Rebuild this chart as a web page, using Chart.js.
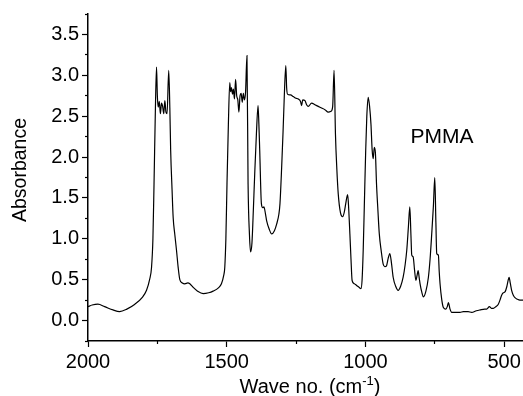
<!DOCTYPE html>
<html>
<head>
<meta charset="utf-8">
<script src="https://cdn.jsdelivr.net/npm/chart.js@4/dist/chart.umd.min.js"></script>
<style>
  body { margin: 0; background: #fff; }
</style>
</head>
<body>
<canvas id="spectrum" width="523" height="396"></canvas>
<script>
// FTIR spectrum of PMMA
const waveNumbers = [
  2000, 1985, 1964, 1940, 1910, 1886, 1860, 1831, 1805, 1789, 1778, 1771, 1766, 1762, 1757, 1753,
  1750, 1747, 1743, 1739, 1735, 1731, 1727, 1723, 1719, 1715, 1709, 1705, 1702, 1697, 1693, 1687,
  1681, 1675, 1669, 1660, 1651, 1640, 1633, 1622, 1605, 1585, 1565, 1549, 1530, 1519, 1511, 1507,
  1503, 1499, 1494, 1489, 1486, 1483, 1479, 1476, 1472, 1468, 1464, 1460, 1456, 1452, 1448, 1444,
  1440, 1436, 1432, 1427, 1423, 1418, 1414, 1409, 1405, 1399, 1393, 1387, 1384, 1381, 1375, 1370,
  1366, 1360, 1356, 1347, 1338, 1328, 1320, 1312, 1308, 1302, 1297, 1293, 1287, 1284, 1281, 1270,
  1260, 1250, 1242, 1234, 1230, 1226, 1218, 1212, 1206, 1194, 1182, 1170, 1158, 1146, 1134, 1124,
  1118, 1113, 1108, 1103, 1098, 1090, 1082, 1076, 1071, 1064, 1060, 1056, 1052, 1048, 1040, 1032,
  1024, 1016, 1012, 1008, 1004, 999, 995, 990, 985, 980, 976, 972, 968, 964, 960, 955,
  950, 943, 936, 930, 924, 918, 912, 906, 900, 891, 882, 873, 864, 857, 851, 845,
  840, 836, 833, 828, 823, 818, 814, 810, 806, 803, 797, 791, 782, 773, 767, 761,
  755, 750, 746, 743, 737, 734, 731, 725, 719, 710, 705, 701, 695, 689, 670, 659,
  647, 630, 617, 600, 587, 570, 563, 553, 546, 539, 530, 521, 515, 509, 503, 497,
  490, 485, 482, 478, 473, 467, 461, 452, 443, 432
];
const absorbance = [
  0.17, 0.19, 0.20, 0.17, 0.13, 0.11, 0.14, 0.20, 0.28, 0.37, 0.50, 0.65, 1.00, 1.67, 2.60, 3.10,
  2.75, 2.61, 2.68, 2.53, 2.66, 2.62, 2.53, 2.69, 2.55, 2.53, 3.06, 2.60, 2.08, 1.60, 1.26, 1.05,
  0.86, 0.65, 0.50, 0.46, 0.45, 0.46, 0.45, 0.41, 0.36, 0.33, 0.34, 0.36, 0.40, 0.45, 0.55, 0.65,
  1.00, 1.67, 2.40, 2.91, 2.80, 2.85, 2.77, 2.83, 2.71, 2.95, 2.75, 2.70, 2.55, 2.75, 2.78, 2.67,
  2.78, 2.70, 2.80, 3.24, 1.67, 1.05, 0.84, 0.95, 1.26, 1.80, 2.28, 2.63, 2.40, 2.08, 1.43, 1.38,
  1.39, 1.30, 1.22, 1.12, 1.06, 1.10, 1.18, 1.30, 1.43, 1.87, 2.30, 2.69, 3.12, 2.85, 2.77, 2.76,
  2.74, 2.72, 2.71, 2.68, 2.63, 2.70, 2.69, 2.64, 2.62, 2.66, 2.64, 2.62, 2.60, 2.58, 2.55, 2.56,
  2.62, 3.06, 2.28, 1.85, 1.55, 1.32, 1.27, 1.33, 1.43, 1.54, 1.35, 1.06, 0.75, 0.49, 0.45, 0.43,
  0.41, 0.39, 0.50, 0.86, 1.40, 2.08, 2.50, 2.73, 2.62, 2.40, 2.10, 1.98, 2.12, 2.05, 1.67, 1.35,
  1.06, 0.85, 0.69, 0.66, 0.67, 0.76, 0.82, 0.70, 0.53, 0.42, 0.37, 0.42, 0.53, 0.68, 0.86, 1.15,
  1.39, 1.05, 0.80, 0.78, 0.62, 0.49, 0.55, 0.61, 0.52, 0.45, 0.35, 0.29, 0.36, 0.53, 0.75, 1.06,
  1.40, 1.75, 1.20, 0.82, 0.80, 0.60, 0.45, 0.26, 0.16, 0.14, 0.17, 0.22, 0.14, 0.10, 0.10, 0.10,
  0.11, 0.11, 0.10, 0.12, 0.13, 0.14, 0.14, 0.17, 0.15, 0.15, 0.17, 0.20, 0.25, 0.31, 0.34, 0.35,
  0.42, 0.50, 0.53, 0.46, 0.37, 0.31, 0.28, 0.26, 0.25, 0.25
];

const xTicks = [2000, 1500, 1000, 500];
const xMinorTicks = [1750, 1250, 750];
const yTicks = [0, 0.5, 1, 1.5, 2, 2.5, 3, 3.5];
const yMinorTicks = [-0.25, 0.25, 0.75, 1.25, 1.75, 2.25, 2.75, 3.25, 3.75];

const sampleName = "PMMA";
const xTitle = "Wave no. (cm";
const xTitleSup = "-1";
const yTitle = "Absorbance";

const FONT = "'Liberation Sans', Arial, sans-serif";
Chart.defaults.font.family = FONT;
Chart.defaults.color = "#000";

const points = waveNumbers.map((w, i) => ({ x: w, y: absorbance[i] }));

const setTicks = list => scale => { scale.ticks = list.map(v => ({ value: v })); };

// sample label + axis titles (the x title needs a superscript)
const textPlugin = {
  id: "texts",
  afterDraw(chart) {
    const { ctx, scales } = chart;
    ctx.save();
    ctx.fillStyle = "#000";

    ctx.font = "21px " + FONT;
    ctx.textAlign = "center";
    ctx.textBaseline = "middle";
    ctx.fillText(sampleName, scales.x.getPixelForValue(724), scales.y.getPixelForValue(2.24));

    ctx.save();
    ctx.translate(21, 170);
    ctx.rotate(-Math.PI / 2);
    ctx.font = "19.5px " + FONT;
    ctx.fillText(yTitle, 0, 0);
    ctx.restore();

    ctx.textAlign = "left";
    ctx.textBaseline = "alphabetic";
    ctx.font = "20px " + FONT;
    const w1 = ctx.measureText(xTitle).width;
    const w3 = ctx.measureText(")").width;
    ctx.font = "13px " + FONT;
    const w2 = ctx.measureText(xTitleSup).width;
    let x = 310 - (w1 + w2 + w3) / 2;
    const base = 393;
    ctx.font = "20px " + FONT;
    ctx.fillText(xTitle, x, base);
    x += w1;
    ctx.font = "13px " + FONT;
    ctx.fillText(xTitleSup, x, base - 8);
    x += w2;
    ctx.font = "20px " + FONT;
    ctx.fillText(")", x, base);
    ctx.restore();
  }
};

new Chart(document.getElementById("spectrum"), {
  type: "line",
  data: {
    datasets: [{
      data: points,
      xAxisID: "x",
      yAxisID: "y",
      borderColor: "#000",
      borderWidth: 1.2,
      pointRadius: 0,
      cubicInterpolationMode: "monotone",
      fill: false
    }]
  },
  options: {
    responsive: false,
    animation: false,
    layout: { padding: { top: 14, right: 0, left: 0, bottom: 0 } },
    plugins: { legend: { display: false }, tooltip: { enabled: false } },
    scales: {
      x: {
        type: "linear",
        reverse: true,
        min: 432,
        max: 2000,
        afterBuildTicks: setTicks(xTicks),
        afterFit: s => { s.height = 55; s.paddingLeft = 0; s.paddingRight = 0; },
        grid: { drawOnChartArea: false, tickLength: 6, tickWidth: 1.2, tickColor: "#000" },
        border: { color: "#000", width: 1.5 },
        ticks: { font: { size: 20 }, padding: 3, maxRotation: 0, autoSkip: false, callback: v => String(v) }
      },
      y: {
        type: "linear",
        min: -0.25,
        max: 3.75,
        afterBuildTicks: setTicks(yTicks),
        afterFit: s => { s.width = 88; s.paddingTop = 0; s.paddingBottom = 0; },
        grid: { drawOnChartArea: false, tickLength: 6, tickWidth: 1.2, tickColor: "#000" },
        border: { color: "#000", width: 1.5 },
        ticks: { font: { size: 20 }, padding: 3, callback: v => v.toFixed(1) }
      },
      xMinor: {
        type: "linear",
        axis: "x",
        reverse: true,
        min: 432,
        max: 2000,
        position: { y: -0.25 },
        afterBuildTicks: setTicks(xMinorTicks),
        grid: { drawOnChartArea: false, tickLength: 3, tickWidth: 1.2, tickColor: "#000" },
        border: { display: false },
        ticks: { display: false }
      },
      yMinor: {
        type: "linear",
        axis: "y",
        min: -0.25,
        max: 3.75,
        position: { x: 2000 },
        afterBuildTicks: setTicks(yMinorTicks),
        grid: { drawOnChartArea: false, tickLength: 3, tickWidth: 1.2, tickColor: "#000" },
        border: { display: false },
        ticks: { display: false }
      }
    }
  },
  plugins: [textPlugin]
});
</script>
</body>
</html>
